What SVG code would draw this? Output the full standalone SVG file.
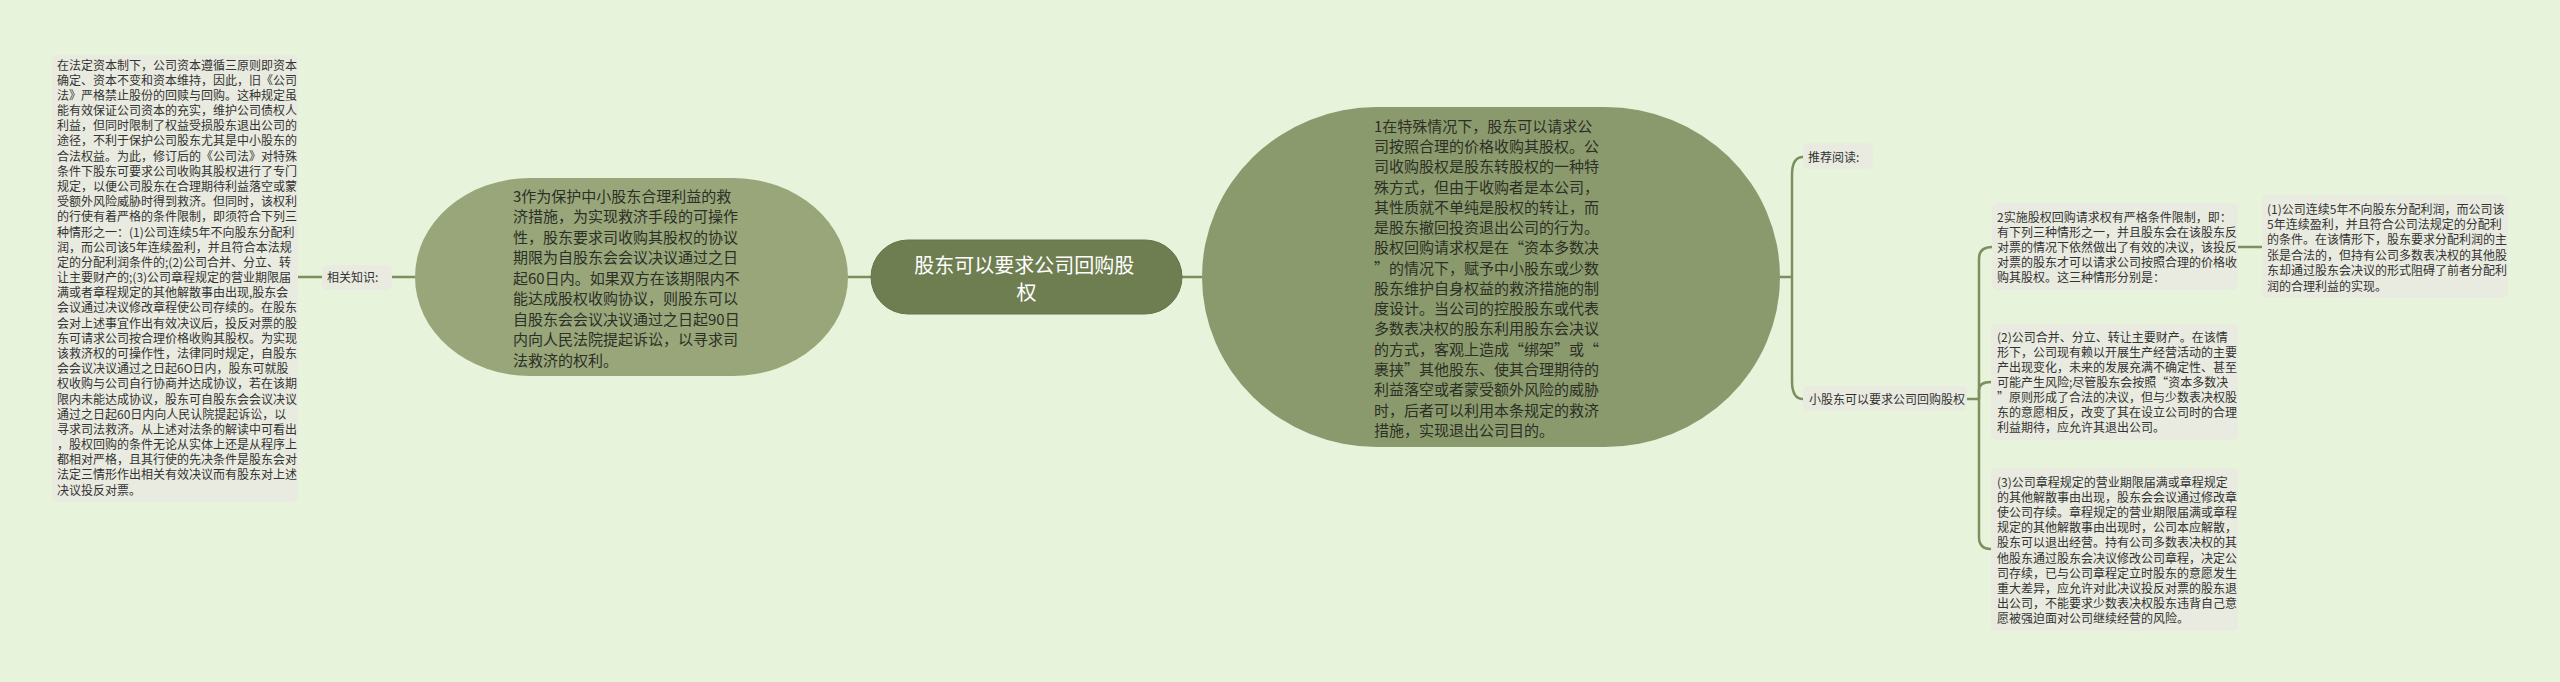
<svg xmlns="http://www.w3.org/2000/svg" width="2560" height="682" viewBox="0 0 2560 682">
<style>
.bg{fill:#e7f4db}
.box{fill:#e9ebe0}
.t12{font-family:"Noto Sans CJK SC","Noto Sans",sans-serif;font-size:12px;fill:#333333}
.t15{font-family:"Noto Sans CJK SC","Noto Sans",sans-serif;font-size:15px;fill:#2c2f26}
.t20{font-family:"Noto Sans CJK SC","Noto Sans",sans-serif;font-size:20px;fill:#ffffff}
.ln{fill:none;stroke:#7d8f5e;stroke-width:2.5}
</style>
<rect class="bg" x="0" y="0" width="2560" height="682"/>
<g id="connectors">
<path class="ln" d="M298,277 H322"/>
<path class="ln" d="M392,277 H415"/>
<path class="ln" d="M848,277 H871"/>
<path class="ln" d="M1182,277 H1202"/>
<path class="ln" d="M1780,277 H1792"/>
<path class="ln" d="M1792,277 V175 C1792,163 1796,157 1803,157"/>
<path class="ln" d="M1792,277 V381 C1792,393 1796,399 1803,399"/>
<path class="ln" d="M1967,399 H1979"/>
<path class="ln" d="M1979,399 V259 C1979,251 1983,247 1992,247"/>
<path class="ln" d="M1979,399 V390 C1979,385 1983,382 1991,382"/>
<path class="ln" d="M1979,399 V537 C1979,545 1983,549 1991,549"/>
<path class="ln" d="M2238,247 H2262"/>
</g>
<g id="node-left-text">
<rect class="box" x="52" y="55" width="246" height="447" rx="5"/>
<text class="t12">
<tspan x="57" y="69.5">在法定资本制下，公司资本遵循三原则即资本</tspan>
<tspan x="57" y="84.7">确定、资本不变和资本维持，因此，旧《公司</tspan>
<tspan x="57" y="99.9">法》严格禁止股份的回赎与回购。这种规定虽</tspan>
<tspan x="57" y="115.0">能有效保证公司资本的充实，维护公司债权人</tspan>
<tspan x="57" y="130.2">利益，但同时限制了权益受损股东退出公司的</tspan>
<tspan x="57" y="145.4">途径，不利于保护公司股东尤其是中小股东的</tspan>
<tspan x="57" y="160.6">合法权益。为此，修订后的《公司法》对特殊</tspan>
<tspan x="57" y="175.8">条件下股东可要求公司收购其股权进行了专门</tspan>
<tspan x="57" y="190.9">规定，以便公司股东在合理期待利益落空或蒙</tspan>
<tspan x="57" y="206.1">受额外风险威胁时得到救济。但同时，该权利</tspan>
<tspan x="57" y="221.3">的行使有着严格的条件限制，即须符合下列三</tspan>
<tspan x="57" y="236.5">种情形之一：(1)公司连续5年不向股东分配利</tspan>
<tspan x="57" y="251.7">润，而公司该5年连续盈利，并且符合本法规</tspan>
<tspan x="57" y="266.8">定的分配利润条件的;(2)公司合并、分立、转</tspan>
<tspan x="57" y="282.0">让主要财产的;(3)公司章程规定的营业期限届</tspan>
<tspan x="57" y="297.2">满或者章程规定的其他解散事由出现,股东会</tspan>
<tspan x="57" y="312.4">会议通过决议修改章程使公司存续的。在股东</tspan>
<tspan x="57" y="327.6">会对上述事宜作出有效决议后，投反对票的股</tspan>
<tspan x="57" y="342.7">东可请求公司按合理价格收购其股权。为实现</tspan>
<tspan x="57" y="357.9">该救济权的可操作性，法律同时规定，自股东</tspan>
<tspan x="57" y="373.1">会会议决议通过之日起6O日内，股东可就股</tspan>
<tspan x="57" y="388.3">权收购与公司自行协商并达成协议，若在该期</tspan>
<tspan x="57" y="403.5">限内未能达成协议，股东可自股东会会议决议</tspan>
<tspan x="57" y="418.6">通过之日起60日内向人民认院提起诉讼，以</tspan>
<tspan x="57" y="433.8">寻求司法救济。从上述对法条的解读中可看出</tspan>
<tspan x="57" y="449.0">，股权回购的条件无论从实体上还是从程序上</tspan>
<tspan x="57" y="464.2">都相对严格，且其行使的先决条件是股东会对</tspan>
<tspan x="57" y="479.4">法定三情形作出相关有效决议而有股东对上述</tspan>
<tspan x="57" y="494.5">决议投反对票。</tspan>
</text>
</g>
<g id="node-related">
<rect class="box" x="322" y="265" width="70" height="25" rx="5"/>
<text class="t12" x="327" y="281.5">相关知识:</text>
</g>
<g id="node-left-ellipse">
<rect x="415" y="178" width="433" height="198" rx="115" ry="99" fill="#98a67a"/>
<text class="t15">
<tspan x="513" y="201.7">3作为保护中小股东合理利益的救</tspan>
<tspan x="513" y="222.2">济措施，为实现救济手段的可操作</tspan>
<tspan x="513" y="242.7">性，股东要求司收购其股权的协议</tspan>
<tspan x="513" y="263.2">期限为自股东会会议决议通过之日</tspan>
<tspan x="513" y="283.7">起60日内。如果双方在该期限内不</tspan>
<tspan x="513" y="304.2">能达成股权收购协议，则股东可以</tspan>
<tspan x="513" y="324.7">自股东会会议决议通过之日起90日</tspan>
<tspan x="513" y="345.2">内向人民法院提起诉讼，以寻求司</tspan>
<tspan x="513" y="365.7">法救济的权利。</tspan>
</text>
</g>
<g id="node-center">
<rect x="871" y="240" width="311" height="74" rx="37" fill="#6e7e50" stroke="#65744a" stroke-width="1"/>
<text class="t20" text-anchor="middle">
<tspan x="1026.5" y="272.6">股东可以要求公司回购股</tspan>
<tspan x="1026.5" y="299.6">权</tspan>
</text>
</g>
<g id="node-right-ellipse">
<rect x="1202" y="107" width="578" height="340" rx="175" ry="170" fill="#8b9a6d"/>
<text class="t15">
<tspan x="1374" y="131.7">1在特殊情况下，股东可以请求公</tspan>
<tspan x="1374" y="152.0">司按照合理的价格收购其股权。公</tspan>
<tspan x="1374" y="172.2">司收购股权是股东转股权的一种特</tspan>
<tspan x="1374" y="192.5">殊方式，但由于收购者是本公司，</tspan>
<tspan x="1374" y="212.8">其性质就不单纯是股权的转让，而</tspan>
<tspan x="1374" y="233.1">是股东撤回投资退出公司的行为。</tspan>
<tspan x="1374" y="253.3">股权回购请求权是在“资本多数决</tspan>
<tspan x="1374" y="273.6">”的情况下，赋予中小股东或少数</tspan>
<tspan x="1374" y="293.9">股东维护自身权益的救济措施的制</tspan>
<tspan x="1374" y="314.1">度设计。当公司的控股股东或代表</tspan>
<tspan x="1374" y="334.4">多数表决权的股东利用股东会决议</tspan>
<tspan x="1374" y="354.7">的方式，客观上造成“绑架”或“</tspan>
<tspan x="1374" y="375.0">裹挟”其他股东、使其合理期待的</tspan>
<tspan x="1374" y="395.2">利益落空或者蒙受额外风险的威胁</tspan>
<tspan x="1374" y="415.5">时，后者可以利用本条规定的救济</tspan>
<tspan x="1374" y="435.8">措施，实现退出公司目的。</tspan>
</text>
</g>
<g id="node-recommend">
<rect class="box" x="1803" y="143" width="70" height="26" rx="5"/>
<text class="t12" x="1808" y="161.5">推荐阅读:</text>
</g>
<g id="node-small-holder">
<rect class="box" x="1803" y="386" width="164" height="25" rx="5"/>
<text class="t12" x="1809" y="403.5">小股东可以要求公司回购股权</text>
</g>
<g id="node-cond2">
<rect class="box" x="1992" y="203" width="246" height="87" rx="5"/>
<text class="t12">
<tspan x="1997" y="221.5">2实施股权回购请求权有严格条件限制，即：</tspan>
<tspan x="1997" y="236.5">有下列三种情形之一，并且股东会在该股东反</tspan>
<tspan x="1997" y="251.5">对票的情况下依然做出了有效的决议，该投反</tspan>
<tspan x="1997" y="266.5">对票的股东才可以请求公司按照合理的价格收</tspan>
<tspan x="1997" y="281.5">购其股权。这三种情形分别是：</tspan>
</text>
</g>
<g id="node-case1">
<rect class="box" x="2262" y="195" width="246" height="103" rx="5"/>
<text class="t12">
<tspan x="2267" y="213.5">(1)公司连续5年不向股东分配利润，而公司该</tspan>
<tspan x="2267" y="228.9">5年连续盈利，并且符合公司法规定的分配利</tspan>
<tspan x="2267" y="244.3">的条件。在该情形下，股东要求分配利润的主</tspan>
<tspan x="2267" y="259.7">张是合法的，但持有公司多数表决权的其他股</tspan>
<tspan x="2267" y="275.1">东却通过股东会决议的形式阻碍了前者分配利</tspan>
<tspan x="2267" y="290.5">润的合理利益的实现。</tspan>
</text>
</g>
<g id="node-case2">
<rect class="box" x="1991" y="324" width="247" height="116" rx="5"/>
<text class="t12">
<tspan x="1997" y="341.5">(2)公司合并、分立、转让主要财产。在该情</tspan>
<tspan x="1997" y="356.5">形下，公司现有赖以开展生产经营活动的主要</tspan>
<tspan x="1997" y="371.5">产出现变化，未来的发展充满不确定性、甚至</tspan>
<tspan x="1997" y="386.5">可能产生风险;尽管股东会按照“资本多数决</tspan>
<tspan x="1997" y="401.5">”原则形成了合法的决议，但与少数表决权股</tspan>
<tspan x="1997" y="416.5">东的意愿相反，改变了其在设立公司时的合理</tspan>
<tspan x="1997" y="431.5">利益期待，应允许其退出公司。</tspan>
</text>
</g>
<g id="node-case3">
<rect class="box" x="1991" y="468" width="247" height="163" rx="5"/>
<text class="t12">
<tspan x="1997" y="486.5">(3)公司章程规定的营业期限届满或章程规定</tspan>
<tspan x="1997" y="501.7">的其他解散事由出现，股东会会议通过修改章</tspan>
<tspan x="1997" y="516.9">使公司存续。章程规定的营业期限届满或章程</tspan>
<tspan x="1997" y="532.1">规定的其他解散事由出现时，公司本应解散，</tspan>
<tspan x="1997" y="547.3">股东可以退出经营。持有公司多数表决权的其</tspan>
<tspan x="1997" y="562.5">他股东通过股东会决议修改公司章程，决定公</tspan>
<tspan x="1997" y="577.7">司存续，已与公司章程定立时股东的意愿发生</tspan>
<tspan x="1997" y="592.9">重大差异，应允许对此决议投反对票的股东退</tspan>
<tspan x="1997" y="608.1">出公司，不能要求少数表决权股东违背自己意</tspan>
<tspan x="1997" y="623.3">愿被强迫面对公司继续经营的风险。</tspan>
</text>
</g>
</svg>
